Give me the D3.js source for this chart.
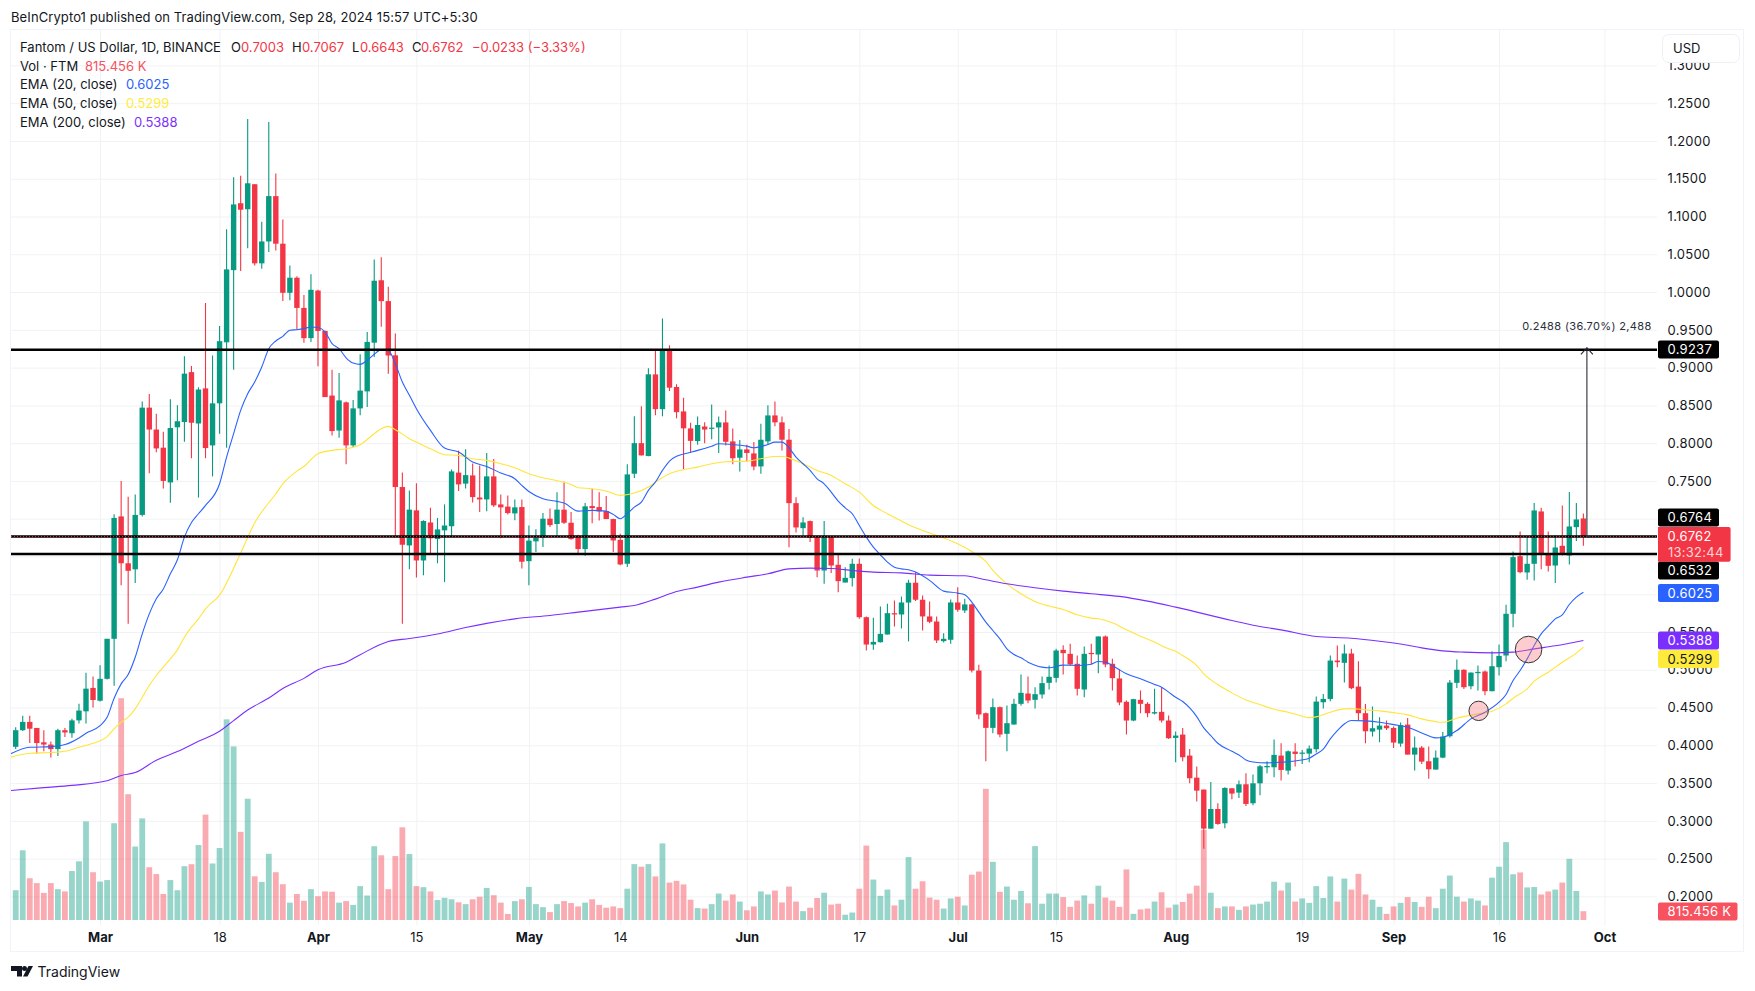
<!DOCTYPE html>
<html><head><meta charset="utf-8">
<script src="https://cdn.jsdelivr.net/npm/d3@7/dist/d3.min.js"></script>
<style>
html,body{margin:0;padding:0;background:#fff;overflow:hidden}
text{font-family:Inter,"Noto Sans",Roboto,sans-serif}
</style></head><body>
<svg id="c" width="1755" height="991"></svg>
<script>
const opens=[.398,.420,.431,.423,.404,.401,.395,.420,.416,.433,
.445,.476,.459,.488,.541,.703,.641,.633,.705,.847,
.818,.794,.748,.821,.828,.894,.826,.8725,.797,.8527,
.9335,1.029,1.1176,1.1096,1.1427,1.038,1.067,1.127,1.064,.999,
1.019,.979,.939,1.002,.9485,.863,.8167,.854,.797,.846,
.8685,.933,1.0156,.988,.9163,.7419,.6646,.711,.6447,.695,
.673,.6846,.69,.761,.7464,.7573,.728,.7255,.756,.7189,
.716,.707,.7154,.6438,.670,.675,.700,.693,.712,.6946,
.6756,.6598,.7167,.7154,.71,.6995,.672,.6403,.7595,.80,
.7829,.891,.845,.9238,.8743,.842,.8195,.8027,.822,.820,
.8208,.8274,.8023,.7807,.7917,.7864,.7692,.8023,.8367,.8275,
.8045,.7206,.6875,.6968,.6756,.6314,.6756,.639,.6155,.6213,
.6403,.5696,.5334,.5365,.5467,.5749,.5732,.589,.6152,.5927,
.5706,.5639,.5379,.5397,.5891,.5785,.5865,.499,.4425,.4231,
.4505,.4152,.4275,.4549,.4686,.4602,.4673,.4827,.4893,.5264,
.5211,.5079,.4739,.5223,.5202,.5441,.5079,.4885,.4576,.4328,
.4602,.4549,.4421,.4443,.4328,.4098,.4142,.3864,.3572,.3414,
.2897,.3157,.2968,.3431,.3374,.3484,.3233,.3497,.3709,.3709,
.3864,.3665,.3917,.3897,.389,.3948,.457,.4614,.5122,.5092,
.5215,.4778,.4425,.4182,.4208,.4261,.423,.4023,.4274,.3877,
.397,.3789,.3679,.3837,.412,.4827,.5,.4782,.4955,.4977,
.4716,.5034,.5189,.5741,.6504,.6288,.6403,.7096,.6544,.638,
.6641,.6513,.6888,.7003];
const highs=[.424,.439,.439,.423,.420,.405,.422,.423,.435,.455,
.496,.491,.506,.541,.706,.750,.729,.732,.855,.865,
.839,.815,.858,.850,.915,.902,.874,.9856,.916,.955,
1.083,1.152,1.154,1.229,1.143,1.093,1.225,1.157,1.096,1.035,
1.021,.996,1.0235,1.003,.949,.897,.893,.855,.857,.9176,
.947,1.043,1.046,1.007,.945,.761,.7374,.747,.698,.7145,
.701,.719,.765,.7904,.792,.773,.7705,.787,.779,.732,
.7308,.7255,.7255,.691,.686,.7074,.7136,.735,.749,.709,
.6787,.7207,.7397,.735,.730,.70,.68,.772,.8355,.8487,
.899,.923,.965,.9295,.878,.860,.827,.8354,.8275,.851,
.8354,.8433,.8195,.804,.798,.8014,.8257,.85,.855,.8354,
.8186,.7285,.702,.6977,.6765,.6968,.676,.6544,.6358,.647,
.6473,.5705,.5687,.5837,.5873,.5917,.597,.6191,.6293,.5984,
.5904,.5706,.5485,.5931,.6094,.594,.5873,.5066,.4434,.462,
.4514,.4527,.4615,.4937,.4911,.477,.4911,.5057,.5277,.5326,
.5344,.5189,.5308,.5344,.5441,.5454,.5145,.5004,.4593,.4615,
.4726,.4571,.4748,.477,.4394,.4183,.423,.3952,.3718,.3414,
.3515,.3233,.3444,.3431,.3533,.363,.3612,.374,.3789,.4076,
.4027,.393,.4027,.3939,.3996,.4645,.468,.5188,.5321,.5334,
.5277,.5113,.4548,.4513,.4372,.4328,.4248,.4301,.4363,.4116,
.3992,.3983,.393,.4177,.4866,.5136,.5008,.4963,.5056,.499,
.5246,.5334,.586,.6566,.6831,.6756,.7206,.7144,.6831,.6778,
.7175,.7352,.7206,.7067];
const lows=[.395,.419,.403,.389,.392,.384,.386,.411,.410,.429,
.429,.450,.458,.487,.479,.612,.561,.615,.703,.760,
.788,.740,.721,.751,.802,.780,.728,.780,.756,.8125,
.794,.897,1.028,1.058,1.035,1.031,1.053,1.055,.988,.989,
.950,.933,.934,.9017,.861,.810,.807,.772,.795,.837,
.848,.914,.954,.892,.676,.561,.633,.622,.625,.653,
.641,.616,.676,.7366,.740,.7215,.709,.710,.7154,.674,
.7057,.698,.634,.612,.656,.6624,.689,.6756,.693,.672,
.6527,.651,.694,.6977,.6995,.656,.6385,.636,.754,.7838,
.7825,.8368,.8355,.869,.8328,.7657,.787,.798,.80,.805,
.787,.797,.772,.7625,.7758,.764,.7595,.7983,.8222,.7904,
.6623,.6818,.6778,.669,.6226,.6138,.628,.6027,.6155,.6102,
.5674,.5255,.5264,.5360,.5467,.5573,.5547,.5375,.591,.552,
.5617,.5353,.5361,.5344,.5768,.575,.4964,.4346,.379,.416,
.4108,.3922,.4275,.4523,.4558,.4487,.462,.4739,.4832,.4937,
.5057,.4659,.4637,.507,.4955,.5035,.4726,.4531,.4143,.4319,
.4425,.4372,.4408,.4302,.4085,.3776,.3789,.3497,.3255,.263,
.2897,.295,.2901,.3285,.3303,.3197,.3206,.3338,.363,.3577,
.3533,.3612,.3718,.3754,.3776,.3904,.4486,.4584,.5034,.4831,
.4743,.4328,.4027,.4116,.4041,.4204,.3965,.3981,.3877,.3665,
.3754,.3559,.3679,.3829,.4105,.476,.4747,.4743,.4725,.4663,
.4716,.4924,.5114,.5564,.6279,.6191,.6182,.6332,.6301,.6147,
.6513,.6394,.6703,.6643];
const closes=[.420,.431,.422,.403,.401,.395,.420,.417,.433,.446,
.475,.460,.488,.541,.701,.641,.631,.705,.847,.818,
.793,.750,.820,.829,.892,.827,.871,.7935,.8527,.935,
1.030,1.116,1.109,1.144,1.038,1.067,1.127,1.064,.999,1.019,
.979,.939,1.003,.9485,.861,.816,.8566,.797,.846,.8695,
.934,1.015,.988,.916,.7419,.6655,.712,.6447,.697,.674,
.6858,.691,.7626,.7454,.7577,.7286,.7255,.756,.7176,.715,
.7074,.715,.643,.671,.6748,.700,.6915,.712,.6946,.673,
.6598,.7163,.714,.7096,.6995,.6712,.6394,.7586,.80,.7838,
.8911,.845,.9229,.8734,.841,.8196,.803,.824,.818,.8205,
.8275,.8018,.78,.7917,.787,.769,.8045,.8367,.8275,.8045,
.7206,.6884,.695,.6747,.6314,.6756,.638,.6173,.6217,.6403,
.5696,.5334,.5369,.5475,.5749,.5732,.5891,.6152,.5927,.5706,
.5635,.5388,.541,.5891,.5794,.5865,.499,.4408,.4231,.4505,
.4143,.4293,.4549,.4695,.4593,.4677,.4823,.4907,.5255,.522,
.507,.4748,.5211,.5212,.5441,.507,.4889,.4567,.4328,.4611,
.4549,.4425,.4439,.4328,.4094,.4129,.3842,.3564,.34,.2897,
.3157,.2959,.3436,.3361,.3484,.3224,.3497,.3723,.3727,.3873,
.3674,.3921,.3886,.3904,.3957,.4579,.4614,.5122,.51,.5215,
.4756,.4425,.4186,.4226,.4261,.4226,.4036,.4266,.3877,.397,
.3784,.3683,.3837,.4116,.4831,.5,.4769,.4963,.4972,.4716,
.5047,.5184,.5741,.6491,.6292,.6403,.7109,.6544,.6376,.6619,
.6526,.6897,.699,.6762];
// volume in millions of FTM
const volumes=[2.76,6.46,3.87,3.42,2.51,3.42,2.86,2.65,4.54,5.44,
9.14,4.43,3.56,3.70,8.97,20.56,11.66,6.81,9.42,4.89,
4.26,2.41,3.70,2.76,4.99,5.17,6.95,9.77,5.24,6.67,
18.60,16.09,8.17,11.24,4.05,3.53,6.14,4.43,3.32,1.61,
2.41,1.78,2.86,2.20,2.65,2.62,1.61,1.75,1.40,3.14,
2.27,6.84,6.00,2.86,5.93,8.59,6.11,3.14,3.04,2.65,
1.85,2.06,1.92,1.64,1.47,1.92,2.16,2.97,2.30,1.61,
.56,1.75,1.92,3.07,1.47,1.19,.73,1.47,1.75,1.57,
1.26,1.61,1.92,1.40,1.14,1.26,1.10,2.90,5.18,4.94,
5.18,4.04,7.10,3.47,3.63,3.30,1.88,1.10,1.06,1.47,
2.45,1.80,2.37,1.71,.90,1.26,2.65,2.37,2.73,1.63,
3.10,1.71,.82,1.14,2.04,2.53,1.43,1.51,.49,.69,
2.90,6.90,3.75,2.24,2.82,1.35,1.88,5.83,2.90,3.59,
2.08,1.88,1.06,2.00,2.16,1.35,4.20,4.49,12.16,5.39,
2.61,3.10,1.88,2.69,1.55,6.85,1.51,2.45,2.45,2.12,
1.22,1.80,2.28,1.51,3.18,2.08,1.80,1.22,4.69,.57,
.98,1.06,1.71,2.57,1.14,1.43,1.67,2.45,3.18,8.36,
2.53,1.10,1.26,1.26,.94,1.26,1.43,1.51,1.71,3.55,
2.73,3.47,1.71,2.00,1.59,3.14,2.04,4.04,1.71,3.84,
2.82,4.28,2.37,1.88,1.22,.57,1.26,1.59,2.12,1.67,
1.22,2.16,1.10,2.90,4.12,2.16,1.71,2.00,1.80,1.35,
3.92,4.94,7.22,4.24,4.41,3.02,3.06,2.37,2.65,2.82,
3.47,5.67,2.69,.815];

const ema20At=[-1,2,5,7,9,10,12,13,14,15,16,17,18,19,20,21,22,23,24,25,26,27,29,30,31,32,33,34,35,36,37,38,39,40,41,42,43,44,45,46,47,48,49,50,51,52,53,54,55,56,57,59,61,63,65,67,69,71,72,73,75,77,78,80,82,84,85,86,87,88,89,90,91,92,93,94,95,97,99,100,102,104,105,107,108,109,110,111,112,113,114,115,116,117,118,119,120,121,122,123,124,125,126,127,128,130,132,134,135,136,137,138,139,140,141,142,143,144,145,146,147,149,151,153,154,155,156,157,158,160,162,163,164,165,166,167,168,169,170,171,173,174,175,176,178,180,182,184,185,186,187,188,189,190,192,194,196,198,200,202,203,205,207,209,211,212,213,214,215,216,217,218,219,220,221,222,223];
const ema20=[.3875,.3974,.3983,.401,.4098,.416,.426,.437,.4623,.4813,.4937,.5166,.5475,.574,.5939,.607,.627,.6456,.6756,.695,.7065,.7176,.7463,.7816,.8125,.8434,.8655,.881,.9008,.925,.9352,.9414,.9494,.9502,.9516,.9538,.953,.9472,.9317,.925,.913,.906,.9043,.9096,.9176,.9238,.923,.905,.881,.8633,.8456,.8169,.7935,.7882,.775,.7692,.7604,.7529,.744,.736,.7264,.7229,.7207,.71,.711,.71,.7057,.70,.7065,.7154,.722,.7374,.7485,.7639,.7763,.7825,.7856,.7904,.796,.7992,.7983,.796,.7939,.7983,.8014,.8014,.7939,.7815,.7727,.7639,.7528,.7462,.7352,.7233,.7144,.7065,.691,.6756,.6623,.6522,.6425,.6358,.6336,.6323,.6293,.6183,.6041,.6015,.5993,.5896,.5763,.5631,.552,.541,.5277,.5202,.5158,.5101,.5061,.5035,.5026,.5061,.5057,.5074,.511,.5101,.5057,.4999,.4946,.488,.4805,.477,.4704,.4637,.458,.4495,.438,.423,.4129,.4027,.3921,.3873,.3807,.378,.3767,.3776,.3793,.3829,.3886,.3948,.4085,.4195,.4283,.4328,.4323,.4305,.4274,.4239,.4164,.4098,.4107,.4195,.435,.4438,.4571,.4672,.4858,.499,.5144,.5321,.5476,.5577,.5674,.5727,.5864,.5961,.6025];
const ema50At=[-1,2,5,7,9,11,13,14,15,16,17,18,19,20,21,22,23,24,25,26,27,29,32,34,37,38,40,41,43,45,47,49,51,52,53,54,56,58,59,61,63,65,67,69,71,73,75,77,79,80,82,84,86,88,90,91,93,95,97,99,101,104,106,108,109,110,112,114,116,118,120,122,124,126,128,130,132,134,136,138,139,141,143,145,147,149,151,153,154,156,158,160,162,164,165,166,168,169,171,173,175,177,179,181,183,184,185,187,189,190,192,194,196,198,200,202,203,205,208,210,212,213,215,216,218,220,222,223];
const ema50=[.3835,.3895,.3904,.3921,.3974,.4027,.4116,.4217,.4306,.4372,.4482,.4637,.4791,.4924,.5034,.5144,.5263,.5431,.5564,.5674,.5807,.5988,.6546,.6945,.733,.746,.763,.769,.786,.7904,.7926,.798,.8125,.819,.8222,.8178,.8059,.797,.7926,.7847,.7838,.7794,.7772,.7728,.7675,.7595,.7542,.7503,.7454,.741,.7397,.7366,.7308,.7339,.7419,.7485,.7595,.7648,.7683,.7727,.7754,.7762,.7793,.7824,.7824,.7802,.7727,.7639,.7572,.7462,.7352,.7175,.7065,.6968,.688,.681,.6745,.6668,.6565,.6435,.6315,.6138,.6006,.5904,.5843,.5798,.5728,.5684,.5675,.5622,.5529,.5445,.5366,.5277,.5246,.5188,.5056,.4946,.4804,.4694,.4601,.4539,.4478,.4438,.4385,.4367,.4376,.4438,.4482,.4486,.4469,.4456,.4433,.4403,.435,.4314,.4306,.4359,.4416,.4451,.4548,.4623,.4747,.4849,.4968,.51,.522,.5299];
const ema200At=[-1,4,8,13,15,17,20,23,26,29,31,33,36,38,41,43,47,49,53,56,60,64,67,71,76,80,86,88,91,94,97,100,104,107,110,113,116,119,122,126,130,135,138,141,145,149,153,157,161,165,173,176,180,185,190,194,198,200,203,206,210,213,216,219,223];
const ema200=[.34,.344,.347,.353,.36,.3639,.3803,.3918,.4053,.4187,.4327,.4467,.4626,.4751,.4886,.5,.51,.52,.5374,.5414,.5474,.5559,.5614,.5674,.5719,.5763,.5829,.5851,.5935,.6036,.6094,.616,.6226,.627,.6336,.6345,.6341,.6314,.6292,.6283,.6253,.6244,.6191,.6138,.6085,.6041,.6006,.5971,.5909,.5829,.5652,.559,.5528,.544,.5418,.5378,.5325,.529,.525,.5233,.5224,.5233,.5277,.5317,.5388];

const gridPrices=[1.3,1.25,1.2,1.15,1.1,1.05,1,.95,.9,.85,.8,.75,.7,.65,.6,.55,.5,.45,.4,.35,.3,.25,.2];
const priceTicks=[1.3,1.25,1.2,1.15,1.1,1.05,1,.95,.9,.85,.8,.75,.55,.5,.45,.4,.35,.3,.25,.2];
const timeTickBars=[12,29,43,57,73,86,104,120,134,148,165,183,196,211,226];
const timeTickLabels=["Mar","18","Apr","15","May","14","Jun","17","Jul","15","Aug","19","Sep","16","Oct"];
const levelPrices=[.9237,.6764,.6532];
const circleBars=[215.2,208.1], circlePrices=[.5268,.4456], circleRadii=[13.3,9.7];
const lastPrice=.6762;
const GREEN="#089981",RED="#F23645",BLUE="#2962FF",YELLOW="#FFEB3B",PURPLE="#7B2FFF",INK="#131722";

const svg=d3.select("#c");
const x=d3.scaleLinear().domain([0,223]).range([15.7,15.7+7.03*223]);
const y=d3.scaleLinear().domain([.2,1.25]).range([896.4,103.2]);
const v=d3.scaleLinear().domain([0,20.56]).range([920,698.2]);
const L=11,R=1657,T=30,B=925;

svg.append("defs").append("clipPath").attr("id","pane").append("rect").attr("x",L).attr("y",T).attr("width",R-L).attr("height",B-T);
svg.append("rect").attr("x",10.5).attr("y",29.5).attr("width",1733).attr("height",922).attr("fill","#fff").attr("stroke","#f0f3fa");

// grid
svg.append("g").attr("transform",`translate(${L},0)`).call(d3.axisRight(y).tickValues(gridPrices).tickSize(R-L).tickFormat(""))
 .call(g=>{g.select(".domain").remove();g.selectAll("line").attr("stroke","#f1f2f4");});
svg.append("g").attr("transform",`translate(0,${B})`).call(d3.axisBottom(x).tickValues(timeTickBars).tickSize(-(B-T)).tickFormat(""))
 .call(g=>{g.select(".domain").remove();g.selectAll("line").attr("stroke","#f1f2f4");});

const pane=svg.append("g").attr("clip-path","url(#pane)");
const bars=d3.range(opens.length);
const col=i=>closes[i]>=opens[i]?GREEN:RED;
// volume
pane.append("g").selectAll("rect").data(bars).join("rect")
 .attr("x",i=>x(i)-2.9).attr("width",5.8).attr("y",i=>v(volumes[i])).attr("height",i=>v(0)-v(volumes[i]))
 .attr("fill",col).attr("fill-opacity",.42);
// wicks + bodies
pane.append("g").selectAll("line").data(bars).join("line")
 .attr("x1",x).attr("x2",x).attr("y1",i=>y(highs[i])).attr("y2",i=>y(lows[i]))
 .attr("stroke",col).attr("stroke-width",1.1);
pane.append("g").selectAll("rect").data(bars).join("rect")
 .attr("x",i=>x(i)-2.7).attr("width",5.4)
 .attr("y",i=>y(Math.max(opens[i],closes[i])))
 .attr("height",i=>Math.max(1.2,Math.abs(y(opens[i])-y(closes[i]))))
 .attr("fill",col);
// EMAs
const drawLine=(at,vals,c)=>pane.append("path").attr("d",d3.line().x(i=>x(at[i])).y(i=>y(vals[i])).curve(d3.curveMonotoneX)(d3.range(at.length)))
 .attr("fill","none").attr("stroke",c).attr("stroke-width",1.1);
drawLine(ema50At,ema50,"#FFE53B");
drawLine(ema200At,ema200,PURPLE);
drawLine(ema20At,ema20,BLUE);
// horizontal levels
pane.append("g").selectAll("line").data(levelPrices).join("line")
 .attr("x1",L).attr("x2",R).attr("y1",y).attr("y2",y).attr("stroke","#000").attr("stroke-width",2.4);
pane.append("line").attr("x1",L).attr("x2",R).attr("y1",y(lastPrice)).attr("y2",y(lastPrice)).attr("stroke",RED).attr("stroke-width",1).attr("stroke-dasharray","1 2");
// circles
pane.append("g").selectAll("circle").data(d3.range(circleBars.length)).join("circle")
 .attr("cx",i=>x(circleBars[i])).attr("cy",i=>y(circlePrices[i])).attr("r",i=>circleRadii[i])
 .attr("fill","rgba(247,120,130,.38)").attr("stroke","#333").attr("stroke-width",1);
// measure arrow
const mx=x(223.5);
const ms=svg.append("g").attr("fill","none").attr("stroke","#2a2e39").attr("stroke-width",1.1);
ms.append("line").attr("x1",mx).attr("x2",mx).attr("y1",y(.9262)).attr("y2",y(.6762));
ms.append("line").attr("x1",mx).attr("x2",mx+4).attr("y1",y(.6762)).attr("y2",y(.6762));
ms.append("path").attr("d",`M${mx-6},${y(.9175)}L${mx},${y(.9262)}L${mx+6},${y(.9175)}`);
svg.append("text").attr("x",mx).attr("y",329.5).attr("text-anchor","middle").attr("font-size",11).attr("letter-spacing",.35).attr("fill","#2a2e39").text("0.2488 (36.70%) 2,488");

// axes
svg.append("g").attr("transform",`translate(${R},0)`).call(d3.axisRight(y).tickValues(priceTicks).tickSize(0).tickPadding(10.6).tickFormat(d3.format(".4f")))
 .call(g=>{g.select(".domain").remove();g.selectAll("text").attr("font-size",13).attr("fill",INK).attr("font-family","Inter").attr("letter-spacing",.25);});
svg.append("g").attr("transform",`translate(0,925)`).call(d3.axisBottom(x).tickValues(timeTickBars).tickSize(0).tickPadding(8).tickFormat((d,i)=>timeTickLabels[i]))
 .call(g=>{g.select(".domain").remove();g.selectAll("text").attr("font-size",13).attr("fill",INK).attr("font-family","Inter")
   .attr("font-weight",(d,i)=>isNaN(+timeTickLabels[i])?700:400);});

// USD button
svg.append("rect").attr("x",1662.5).attr("y",34.5).attr("width",77).attr("height",28).attr("rx",6).attr("fill","#fff").attr("stroke","#eef0f5");
svg.append("text").attr("x",1673).attr("y",52.5).attr("font-size",13).attr("fill",INK).text("USD");

// price labels
const lab=(price,cy,fill,tc,w)=>{
 svg.append("rect").attr("x",1658).attr("y",cy-9).attr("width",w||61).attr("height",18).attr("rx",2).attr("fill",fill);
 svg.append("text").attr("x",1667.6).attr("y",cy+4.6).attr("font-size",13).attr("letter-spacing",.25).attr("fill",tc).text(price);
};
lab("0.9237",349.5,"#000","#fff");
lab("0.6764",517.5,"#000","#fff");
lab("0.6532",570.5,"#000","#fff");
lab("0.6025",593,BLUE,"#fff");
lab("0.5388",640.5,"#7B2FFF","#fff");
lab("0.5299",659,"#FFEB3B","#131722");
svg.append("path").attr("d","M1658,527H1728.6a2,2 0 0 1 2,2V559.7a2,2 0 0 1 -2,2H1658Z").attr("fill",RED);
svg.append("text").attr("x",1667.6).attr("y",541.2).attr("font-size",13).attr("letter-spacing",.25).attr("fill","#fff").text("0.6762");
svg.append("text").attr("x",1668).attr("y",556.6).attr("font-size",13).attr("letter-spacing",.25).attr("fill","#fff").attr("fill-opacity",.8).text("13:32:44");
svg.append("rect").attr("x",1658).attr("y",902.5).attr("width",79.5).attr("height",18).attr("rx",2).attr("fill","#F7525F");
svg.append("text").attr("x",1667.6).attr("y",916).attr("font-size",13).attr("letter-spacing",.25).attr("fill","#fff").text("815.456 K");

// header + legend
const t=(s,xx,yy,c,fs)=>svg.append("text").attr("x",xx).attr("y",yy).attr("font-size",fs||13).attr("fill",c||INK).text(s);
t("BeInCrypto1 published on TradingView.com, Sep 28, 2024 15:57 UTC+5:30",11,22).attr("letter-spacing",.1);
const rd="#F23645";
t("Fantom / US Dollar, 1D, BINANCE",20,52);
t("O",231,52);t("0.7003",241,52,rd);t("H",292,52);t("0.7067",302,52,rd);t("L",352,52);t("0.6643",360,52,rd);t("C",412,52);t("0.6762",421,52,rd);t("−0.0233 (−3.33%)",472,52,rd);
t("Vol · FTM",20,70.5);t("815.456 K",85,70.5,"#F7525F");
t("EMA (20, close)",20,89);t("0.6025",126,89,BLUE);
t("EMA (50, close)",20,107.5);t("0.5299",126,107.5,"#FFEB3B");
t("EMA (200, close)",20,126.5);t("0.5388",134,126.5,"#7B2FFF");

// footer
const lg=svg.append("g").attr("fill","#131722");
lg.append("path").attr("d","M11,966H22V976.4H17V971H11Z");
lg.append("circle").attr("cx",24.5).attr("cy",968.5).attr("r",2.5);
lg.append("path").attr("d","M28.5,966H33L27.5,976.4H23Z");
t("TradingView",37.5,977,"#131722",14);
</script>
</body></html>
